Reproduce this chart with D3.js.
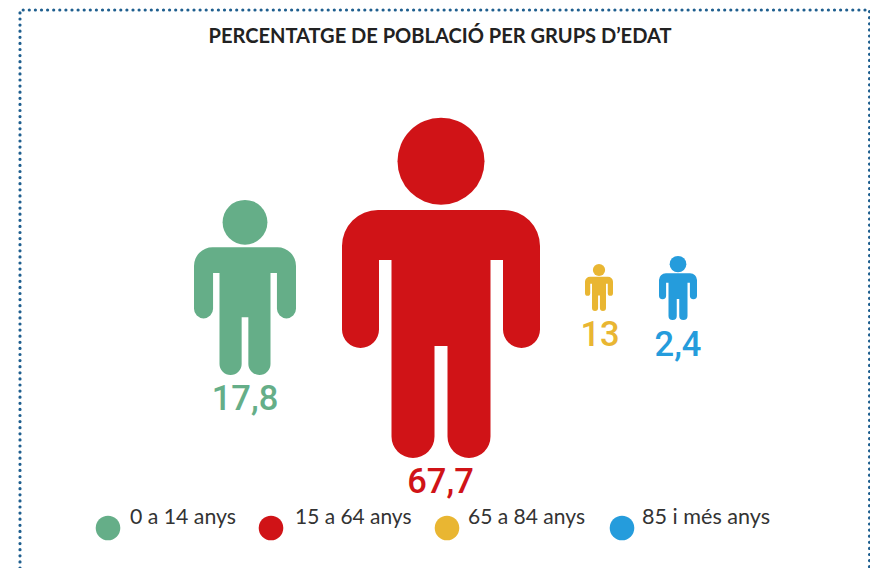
<!DOCTYPE html>
<html><head><meta charset="utf-8">
<script src="https://cdn.jsdelivr.net/npm/d3@7"></script>
<style>html,body{margin:0;padding:0;background:#fff;overflow:hidden}svg{display:block}</style>
</head><body><svg id="c" width="870" height="568"></svg>
<script>
const titleText = "PERCENTATGE DE POBLACIÓ PER GRUPS D’EDAT";
const categories = ["0 a 14 anys","15 a 64 anys","65 a 84 anys","85 i més anys"];
const valueLabels = ["17,8","67,7","13","2,4"];
const colors = ["#65ae88","#d01317","#e9b632","#259cdc"];

// layout (pixels) kept apart from the data
const figLeft = [194,342,585,659], figTop = [200,118,264,256], figWidth = [102,198,28,38], figHeight = [175,340,47,64];
const labelX = [245,440.5,600,678], labelY = [410,493,346,356];
const legendCx = [108,271,447,622], legendTextX = [130,295,468,642], legendTextW = [106,116.5,117,128];

const svg = d3.select("#c");

// dotted frame, open at the bottom
const frame = "#1f5f8f";
svg.append("path")
  .attr("d","M20,568V10H869.5V568")
  .attr("fill","none").attr("stroke",frame).attr("stroke-width",3.2)
  .attr("stroke-linecap","round").attr("stroke-dasharray","0 6.1");

svg.append("text").attr("x",440).attr("y",43).attr("text-anchor","middle")
  .attr("font-family","Lato,sans-serif").attr("font-weight",700).attr("font-size",20)
  .attr("fill","#222").attr("textLength",463).attr("lengthAdjust","spacingAndGlyphs").text(titleText);

// pictogram in a 198 x 340 unit box
function person(sx, sy){
  const rx = v => sx(v)-sx(0), ry = v => sy(v)-sy(0);
  const arc = (x1,y1,r)=>` A${rx(r)},${ry(r)} 0 0 1 ${sx(x1)},${sy(y1)}`;
  let d = `M${sx(-99)},${sy(128)}`;
  d += arc(-63,92,36);
  d += ` H${sx(63)}`;
  d += arc(99,128,36);
  d += ` V${sy(211.5)}`;
  d += arc(62,211.5,18.5);
  d += ` V${sy(142)} H${sx(49.5)} V${sy(318.5)}`;
  d += arc(6.5,318.5,21.5);
  d += ` V${sy(228)} H${sx(-6.5)} V${sy(318.5)}`;
  d += arc(-49.5,318.5,21.5);
  d += ` V${sy(142)} H${sx(-62)} V${sy(211.5)}`;
  d += arc(-99,211.5,18.5);
  return d+" Z";
}

const figs = svg.selectAll("g.fig").data(categories).join("g").attr("class","fig");
figs.each(function(_,i){
  const sx = d3.scaleLinear().domain([-99,99]).range([figLeft[i],figLeft[i]+figWidth[i]]);
  const sy = d3.scaleLinear().domain([0,340]).range([figTop[i],figTop[i]+figHeight[i]]);
  const g = d3.select(this);
  g.append("ellipse").attr("cx",sx(0)).attr("cy",sy(43.3))
    .attr("rx",sx(43.5)-sx(0)).attr("ry",sy(43.5)-sy(0)).attr("fill",colors[i]);
  g.append("path").attr("d",person(sx,sy)).attr("fill",colors[i]);
});

svg.selectAll("text.val").data(valueLabels).join("text").attr("class","val")
  .attr("x",(d,i)=>labelX[i]).attr("y",(d,i)=>labelY[i]).attr("text-anchor","middle")
  .attr("font-family","Roboto,sans-serif").attr("font-weight",500).attr("font-size",34.5)
  .attr("fill",(d,i)=>colors[i]).text(d=>d);

svg.selectAll("circle.leg").data(categories).join("circle").attr("class","leg")
  .attr("cx",(d,i)=>legendCx[i]).attr("cy",528).attr("r",12.3).attr("fill",(d,i)=>colors[i]);
svg.selectAll("text.leg").data(categories).join("text").attr("class","leg")
  .attr("x",(d,i)=>legendTextX[i]).attr("y",524)
  .attr("font-family","Lato,sans-serif").attr("font-size",20.5).attr("fill","#333")
  .attr("textLength",(d,i)=>legendTextW[i]).attr("lengthAdjust","spacingAndGlyphs")
  .text(d=>d);
</script></body></html>
